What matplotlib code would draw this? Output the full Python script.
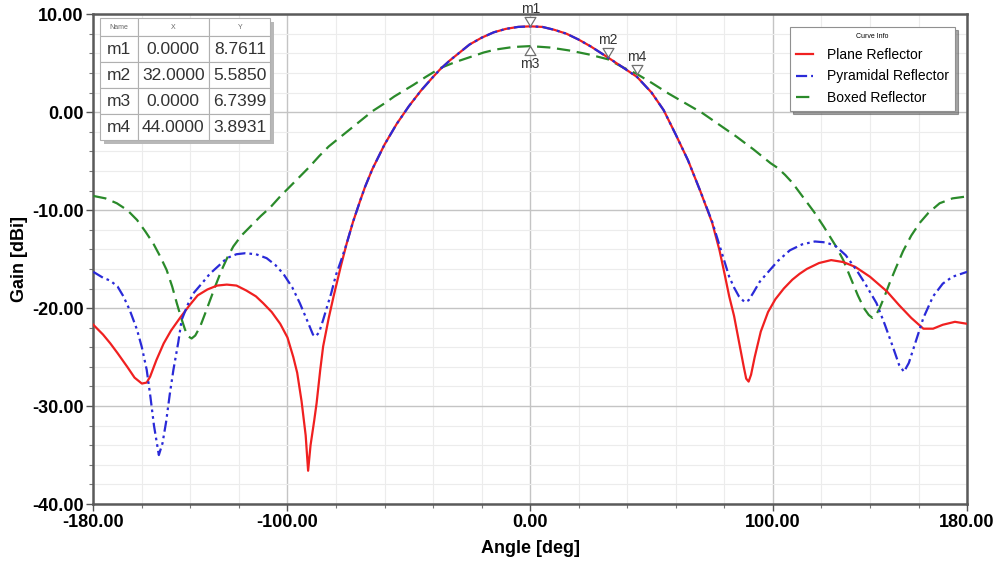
import numpy as np
import matplotlib
matplotlib.use('Agg')
import matplotlib.pyplot as plt
from matplotlib.path import Path
from matplotlib.patches import Rectangle

plt.rcParams['font.family'] = ['Liberation Sans', 'DejaVu Sans']

# Plane reflector (red)
plane_ang = [-180, -176, -173, -170, -166, -163, -160, -158, -156.6, -154, -151, -148, -144,
             -140, -137, -133, -129, -125, -121, -117, -113, -110, -106.5, -103, -100, -97.6,
             -96, -94.2, -92.5, -91.5, -90.5, -89, -88, -86.5, -85.3, -83, -81, -78, -75.6,
             -73, -70, -68, -65, -60, -55, -50, -45, -40, -37, -33, -30, -25, -20, -15, -10,
             -5, 0, 5, 10, 15, 20, 25, 32, 38, 44, 50, 55, 60, 65, 70, 75, 78, 80, 82, 84,
             86, 88, 89, 90, 91, 92.5, 95, 98, 101, 104.5, 108, 111, 114, 119, 124, 129,
             134, 140, 147, 152, 157, 162, 166, 170, 175, 180]
plane_gain = [-21.7, -22.7, -23.6, -24.6, -26.0, -27.1, -27.7, -27.6, -27.0, -25.3, -23.6, -22.3, -20.9,
              -19.6, -18.7, -18.1, -17.7, -17.6, -17.7, -18.2, -18.8, -19.5, -20.4, -21.6, -23.0, -25.0,
              -26.6, -29.5, -33.0, -36.6, -34.0, -31.5, -29.7, -26.3, -23.9, -21.0, -18.8, -15.7, -13.4,
              -11.2, -9.0, -7.6, -5.8, -3.3, -1.2, 0.6, 2.2, 3.6, 4.4, 5.3, 5.9, 6.9, 7.6, 8.15, 8.5,
              8.7, 8.76, 8.7, 8.4, 8.0, 7.4, 6.7, 5.585, 4.6, 3.6, 2.0, 0.2, -2.3, -4.9, -8.0, -11.3,
              -14.1, -16.4, -18.8, -20.8, -23.4, -26.0, -27.2, -27.5, -26.8, -25.0, -22.4, -20.4, -19.1,
              -18.0, -17.1, -16.5, -16.0, -15.4, -15.1, -15.3, -15.8, -16.8, -18.3, -19.7, -21.0, -22.1,
              -22.1, -21.7, -21.4, -21.6]

# Pyramidal reflector (blue)
pyr_ang = [-180, -176, -173, -170, -167.6, -165, -162, -160, -158, -156.5, -155, -153, -151.5,
           -150, -148.5, -147, -145, -143.6, -141, -138.8, -135, -132, -128, -125, -121, -117.5,
           -113, -108.6, -105, -101.7, -98, -94.9, -92, -89.5, -88.5, -87, -85.3, -83.5, -82,
           -80, -78, -75.6, -73, -70, -68, -65, -60, -55, -50, -45, -40, -37, -33, -30, -25,
           -20, -15, -10, -5, 0, 5, 10, 15, 20, 25, 32, 38, 44, 50, 55, 60, 65, 70, 75, 78,
           80, 82, 84, 86, 88.4, 90, 92, 94.6, 97.4, 102, 107, 112, 117.3, 122, 126, 130,
           134.4, 138, 142.7, 146, 149.5, 152, 154, 156, 159, 162, 166, 170, 174, 180]
pyr_gain = [-16.3, -16.9, -17.2, -17.8, -18.8, -20.2, -22.2, -24.0, -26.3, -29.0, -32.0, -35.0, -33.8,
            -31.6, -28.8, -26.3, -23.5, -21.2, -19.6, -18.5, -17.4, -16.5, -15.6, -14.9, -14.5, -14.4,
            -14.5, -14.9, -15.6, -16.5, -17.9, -19.5, -21.2, -22.7, -22.9, -22.5, -21.2, -19.7, -18.5,
            -16.6, -15.2, -13.4, -11.2, -9.0, -7.6, -5.8, -3.3, -1.2, 0.6, 2.2, 3.6, 4.4, 5.3, 5.9,
            6.9, 7.6, 8.15, 8.5, 8.7, 8.76, 8.7, 8.4, 8.0, 7.4, 6.7, 5.585, 4.6, 3.6, 2.0, 0.2, -2.3,
            -4.9, -8.0, -11.2, -13.6, -15.2, -16.8, -17.9, -18.8, -19.4, -19.2, -18.4, -17.3, -16.5,
            -15.2, -14.1, -13.5, -13.2, -13.3, -13.7, -14.6, -16.1, -17.5, -19.5, -21.6, -24.0, -25.8,
            -26.5, -25.6, -23.3, -21.0, -18.8, -17.5, -16.8, -16.3]

# Boxed reflector (green)
box_ang = [-180, -175, -170.3, -166, -162, -158.5, -155.3, -152.5, -149.8, -147.5, -145.6, -143.8,
           -142.2, -140.8, -139.5, -138, -136, -134, -131.9, -129.5, -127.1, -124.7, -122.3, -119,
           -115.4, -111, -107, -103, -99, -95, -91, -87, -83, -78, -74, -70, -65, -60, -56, -52,
           -48, -43, -37, -31, -25, -19, -14, -7, 0, 8, 16, 24, 32, 38, 44, 50, 57, 64, 71, 78,
           85, 92, 99, 102, 105, 108, 111, 114, 117, 121, 126, 129, 132, 135, 137.5, 139.5, 141,
           142.5, 144, 146, 148, 150.5, 153.6, 157, 160.5, 164, 168.7, 174, 180]
box_gain = [-8.55, -8.8, -9.3, -10.0, -11.0, -12.2, -13.4, -14.7, -16.1, -17.8, -19.5, -21.0,
            -22.2, -22.9, -23.1, -22.8, -21.9, -20.6, -19.2, -17.6, -16.1, -14.8, -13.7, -12.6,
            -11.7, -10.6, -9.7, -8.6, -7.6, -6.6, -5.6, -4.5, -3.5, -2.5, -1.7, -0.9, 0.1, 0.9,
            1.6, 2.2, 2.8, 3.6, 4.5, 5.1, 5.6, 6.1, 6.4, 6.65, 6.74, 6.6, 6.3, 5.9, 5.4, 4.6,
            3.89, 3.0, 1.9, 0.9, -0.1, -1.3, -2.5, -3.8, -5.2, -5.7, -6.4, -7.2, -8.2, -9.2,
            -10.2, -11.7, -13.7, -15.1, -16.9, -18.7, -20.0, -20.7, -21.0, -20.7, -20.0, -18.8,
            -17.5, -16.0, -14.2, -12.6, -11.3, -10.3, -9.3, -8.8, -8.6]

# markers
mk_names = ['m1', 'm2', 'm3', 'm4']
mk_x = [0.0, 32.0, 0.0, 44.0]
mk_y = [8.7611, 5.5850, 6.7399, 3.8931]
mk_down = [True, True, False, True]

xticks = [-180, -100, 0, 100, 180]
yticks = [10, 0, -10, -20, -30, -40]

fig = plt.figure(figsize=(9.98, 5.67), dpi=100)
ax = fig.add_axes([0.0935, 0.111, 0.8755, 0.864])

ax.plot(plane_ang, plane_gain, color='#f02020', lw=1.6, label='Plane Reflector', zorder=4)
ax.plot(pyr_ang, pyr_gain, color='#2a2ad8', lw=1.6, dashes=(5, 1.8, 1.2, 1.8, 1.2, 1.8),
        label='Pyramidal Reflector', zorder=5)
ax.plot(box_ang, box_gain, color='#2a8a2a', lw=1.6, dashes=(6, 3),
        label='Boxed Reflector', zorder=3)

# marker triangles with the tip on the point
tri_down = Path([(0, 0), (-0.6, 1), (0.6, 1), (0, 0)], closed=True)
tri_up = Path([(0, 0), (-0.6, -1), (0.6, -1), (0, 0)], closed=True)
for name, x, y, down in zip(mk_names, mk_x, mk_y, mk_down):
    ax.plot([x], [y], marker=tri_down if down else tri_up, ms=13, mfc='white',
            mec='#707070', mew=0.9, zorder=7, clip_on=False)
    if down:
        ax.annotate(name, (x, y), xytext=(0, 7.5), textcoords='offset points',
                    ha='center', va='bottom', fontsize=10, color='#333333',
                    annotation_clip=False, zorder=8)
    else:
        ax.annotate(name, (x, y), xytext=(0, -8), textcoords='offset points',
                    ha='center', va='top', fontsize=10, color='#333333',
                    annotation_clip=False, zorder=8)

ax.set_xlim(-180, 180)
ax.set_ylim(-40, 10)
ax.set_xticks(xticks)
ax.set_xticklabels(['%.2f' % t for t in xticks])
ax.set_yticks(yticks)
ax.set_yticklabels(['%.2f' % t for t in yticks])
ax.set_xticks(np.arange(-180, 181, 20), minor=True)
ax.set_yticks(np.arange(-40, 11, 2), minor=True)
ax.grid(which='major', color='#c4c4c4', lw=1.0)
ax.grid(which='minor', color='#ececec', lw=0.8)
ax.set_axisbelow(True)
ax.tick_params(which='major', direction='out', length=5, width=1, color='#555555',
               labelsize=13, pad=2)
ax.tick_params(which='minor', direction='out', length=3, width=0.8, color='#777777')
for lab in ax.get_xticklabels() + ax.get_yticklabels():
    lab.set_fontweight('bold')
for s in ax.spines.values():
    s.set_color('#5a5a5a')
    s.set_linewidth(1.8)

ax.set_xlabel('Angle [deg]', fontsize=13, fontweight='bold')
ax.set_ylabel('Gain [dBi]', fontsize=13, fontweight='bold')
ax.xaxis.set_label_coords(0.5, -0.074)
ax.yaxis.set_label_coords(-0.075, 0.5)

# marker table
cells = [[n, '%.4f' % x, '%.4f' % y] for n, x, y in zip(mk_names, mk_x, mk_y)]
tb_box = [0.0077, 0.743, 0.195, 0.249]
ax.add_patch(Rectangle((tb_box[0] + 0.004, tb_box[1] - 0.008), tb_box[2], tb_box[3],
                       transform=ax.transAxes, facecolor='#b8b8b8', edgecolor='none',
                       zorder=9, clip_on=False))
tab = ax.table(cellText=cells, colLabels=['Name', 'X', 'Y'], colWidths=[0.22, 0.42, 0.36],
               bbox=tb_box, cellLoc='center', zorder=10)
tab.auto_set_font_size(False)
for (r, c), cell in tab.get_celld().items():
    cell.set_edgecolor('#b0b0b0')
    cell.set_linewidth(0.8)
    cell.set_facecolor('white')
    if r == 0:
        cell.set_height(cell.get_height() * 0.7)
        cell.get_text().set_fontsize(5)
        cell.get_text().set_color('#666666')
    else:
        cell.get_text().set_fontsize(12.5)
        cell.get_text().set_color('#333333')

leg = ax.legend(title='Curve Info', loc='upper right', bbox_to_anchor=(0.986, 0.974),
                borderaxespad=0, fontsize=10, title_fontsize=5, frameon=True, fancybox=False,
                shadow=True, edgecolor='#909090', handlelength=1.2, handletextpad=1.0,
                borderpad=0.45, labelspacing=0.55, framealpha=1)
leg.get_frame().set_linewidth(0.8)
leg.set_zorder(10)

fig.savefig('out.png', dpi=100)
